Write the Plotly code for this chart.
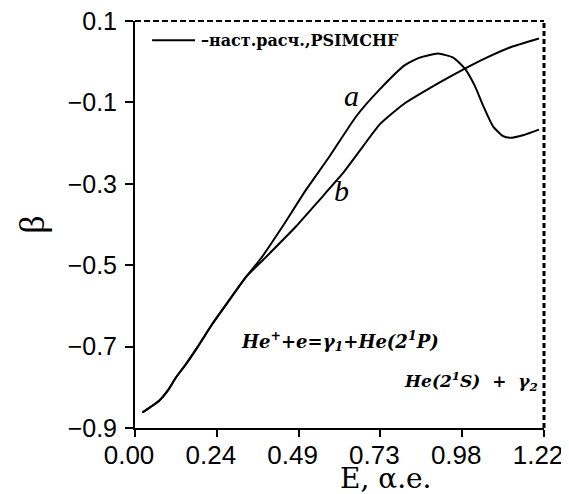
import plotly.graph_objects as go

# Curve a (with maximum and drop)
xa = [0.022, 0.072, 0.097, 0.122, 0.152, 0.186, 0.231, 0.281, 0.331, 0.376, 0.440, 0.510,
      0.580, 0.660, 0.730, 0.804, 0.849, 0.904, 0.949, 0.984, 1.014, 1.039, 1.068, 1.098,
      1.118, 1.160, 1.205]
ya = [-0.862, -0.833, -0.809, -0.776, -0.743, -0.702, -0.644, -0.586, -0.529, -0.483, -0.405, -0.315,
      -0.233, -0.134, -0.068, -0.009, 0.010, 0.020, 0.010, -0.017, -0.060, -0.109, -0.159, -0.183,
      -0.187, -0.180, -0.167]

# Curve b (monotonic)
xb = [0.022, 0.072, 0.097, 0.122, 0.152, 0.186, 0.231, 0.281, 0.331, 0.381, 0.480, 0.550,
      0.620, 0.680, 0.730, 0.800, 0.909, 0.984, 1.049, 1.118, 1.205]
yb = [-0.862, -0.833, -0.809, -0.776, -0.743, -0.702, -0.644, -0.586, -0.529, -0.488, -0.405, -0.340,
      -0.274, -0.208, -0.154, -0.105, -0.051, -0.017, 0.010, 0.035, 0.057]

x_tickvals = [0.0, 0.244, 0.488, 0.732, 0.976, 1.22]
x_ticktext = ["0.00", "0.24", "0.49", "0.73", "0.98", "1.22"]
y_tickvals = [0.1, -0.1, -0.3, -0.5, -0.7, -0.9]
y_ticktext = ["0.1", "\u22120.1", "\u22120.3", "\u22120.5", "\u22120.7", "\u22120.9"]

fig = go.Figure()
line_style = dict(color="black", width=2, shape="spline", smoothing=0.5)
fig.add_trace(go.Scatter(x=xa, y=ya, mode="lines", line=line_style, showlegend=False))
fig.add_trace(go.Scatter(x=xb, y=yb, mode="lines", line=line_style, showlegend=False))

serif = "DejaVu Serif, Liberation Serif, serif"
tserif = "Liberation Serif, DejaVu Serif, serif"
sans = "Liberation Sans, Arial, sans-serif"

fig.update_layout(
    width=561, height=486,
    margin=dict(l=127, r=25, t=13, b=66),
    paper_bgcolor="white", plot_bgcolor="white",
    xaxis=dict(range=[0, 1.22], tickvals=x_tickvals, ticktext=x_ticktext, automargin=False,
               showgrid=False, zeroline=False, showline=True, linecolor="black", linewidth=2,
               ticks="outside", ticklen=7, tickwidth=2, tickcolor="black",
               ticklabeloverflow="allow", ticklabelshift=-6,
               tickfont=dict(family=sans, size=26, color="black"), ticklabelstandoff=-4),
    yaxis=dict(range=[-0.9, 0.1], tickvals=y_tickvals, ticktext=y_ticktext, automargin=False,
               showgrid=False, zeroline=False, showline=True, linecolor="black", linewidth=2,
               ticks="outside", ticklen=8, tickwidth=2, tickcolor="black",
               ticklabeloverflow="allow",
               tickfont=dict(family=sans, size=25, color="black"), ticklabelstandoff=3,
               title=dict(text="\u03b2", standoff=12,
                          font=dict(family=tserif, size=36, color="black"))),
    shapes=[
        dict(type="line", xref="paper", yref="paper", x0=0, x1=1, y0=1, y1=1,
             line=dict(color="black", width=2, dash="6px,3px")),
        dict(type="line", xref="paper", yref="paper", x0=1, x1=1, y0=0, y1=1,
             line=dict(color="black", width=3, dash="5px,3px")),
        dict(type="line", x0=0.051, x1=0.179, y0=0.053, y1=0.053,
             line=dict(color="black", width=2)),
    ],
    annotations=[
        dict(x=0.191, y=0.053, xanchor="left", yanchor="middle",
             text="<b>\u2013\u043d\u0430\u0441\u0442.\u0440\u0430\u0441\u0447.,PSIMCHF</b>", showarrow=False,
             font=dict(family=serif, size=16, color="black")),
        dict(x=0.647, y=-0.083, text="<i>a</i>", showarrow=False,
             font=dict(family=tserif, size=30, color="black")),
        dict(x=0.617, y=-0.316, text="<i>b</i>", showarrow=False,
             font=dict(family=tserif, size=30, color="black")),
        dict(x=0.610, y=-0.685, text="<b><i>He<sup>+</sup>+e=\u03b3<sub>1</sub>+He(2<sup>1</sup>P)</i></b>",
             showarrow=False, font=dict(family=serif, size=18, color="black")),
        dict(x=1.209, y=-0.785, xanchor="right",
             text="<b><i>He(2<sup>1</sup>S)\u00a0 +\u00a0 \u03b3<sub>2</sub></i></b>",
             showarrow=False, font=dict(family=serif, size=17, color="black")),
        dict(xref="paper", yref="paper", x=0.614, y=-0.124, xanchor="center", yanchor="middle",
             text="E, \u03b1.e.",
             showarrow=False, font=dict(family=serif, size=28, color="black")),
    ],
)

fig.write_html("out.html")
